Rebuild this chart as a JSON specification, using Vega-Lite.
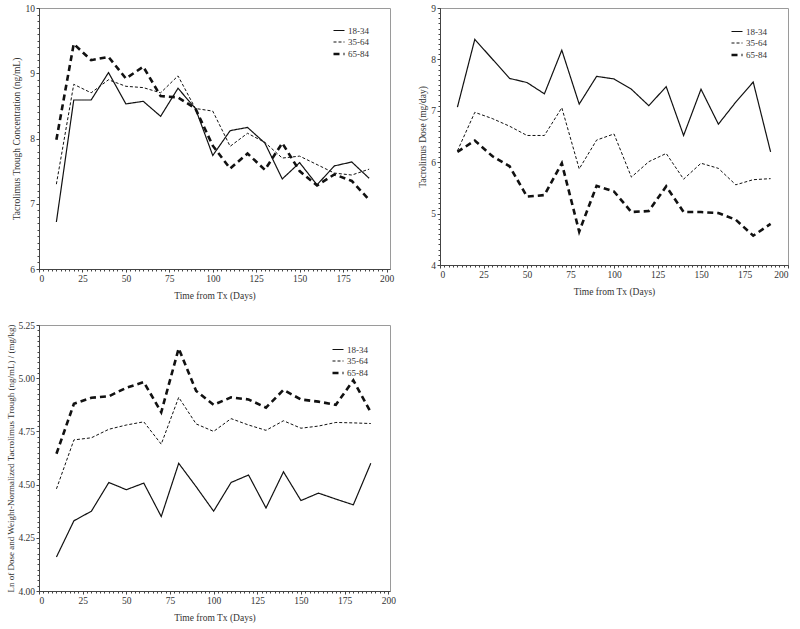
{
  "$schema": "https://vega.github.io/schema/vega-lite/v6.json",
  "padding": {"top": 2, "left": 6, "right": 5, "bottom": 5},
  "background": "white",
  "datasets": {
    "p1": [
      {"day": 10, "group": "18-34", "value": 6.72}, {"day": 20, "group": "18-34", "value": 8.59}, {"day": 30, "group": "18-34", "value": 8.59}, {"day": 40, "group": "18-34", "value": 9.01}, {"day": 50, "group": "18-34", "value": 8.53}, {"day": 60, "group": "18-34", "value": 8.57}, {"day": 70, "group": "18-34", "value": 8.34}, {"day": 80, "group": "18-34", "value": 8.77}, {"day": 90, "group": "18-34", "value": 8.46}, {"day": 100, "group": "18-34", "value": 7.74}, {"day": 110, "group": "18-34", "value": 8.12}, {"day": 120, "group": "18-34", "value": 8.17}, {"day": 130, "group": "18-34", "value": 7.93}, {"day": 140, "group": "18-34", "value": 7.38}, {"day": 150, "group": "18-34", "value": 7.63}, {"day": 160, "group": "18-34", "value": 7.29}, {"day": 170, "group": "18-34", "value": 7.58}, {"day": 180, "group": "18-34", "value": 7.64}, {"day": 190, "group": "18-34", "value": 7.39},
      {"day": 10, "group": "35-64", "value": 7.30}, {"day": 20, "group": "35-64", "value": 8.83}, {"day": 30, "group": "35-64", "value": 8.70}, {"day": 40, "group": "35-64", "value": 8.90}, {"day": 50, "group": "35-64", "value": 8.80}, {"day": 60, "group": "35-64", "value": 8.78}, {"day": 70, "group": "35-64", "value": 8.70}, {"day": 80, "group": "35-64", "value": 8.96}, {"day": 90, "group": "35-64", "value": 8.46}, {"day": 100, "group": "35-64", "value": 8.42}, {"day": 110, "group": "35-64", "value": 7.88}, {"day": 120, "group": "35-64", "value": 8.08}, {"day": 130, "group": "35-64", "value": 7.94}, {"day": 140, "group": "35-64", "value": 7.70}, {"day": 150, "group": "35-64", "value": 7.73}, {"day": 160, "group": "35-64", "value": 7.60}, {"day": 170, "group": "35-64", "value": 7.47}, {"day": 180, "group": "35-64", "value": 7.44}, {"day": 190, "group": "35-64", "value": 7.53},
      {"day": 10, "group": "65-84", "value": 7.98}, {"day": 20, "group": "65-84", "value": 9.45}, {"day": 30, "group": "65-84", "value": 9.20}, {"day": 40, "group": "65-84", "value": 9.25}, {"day": 50, "group": "65-84", "value": 8.92}, {"day": 60, "group": "65-84", "value": 9.10}, {"day": 70, "group": "65-84", "value": 8.65}, {"day": 80, "group": "65-84", "value": 8.63}, {"day": 90, "group": "65-84", "value": 8.46}, {"day": 100, "group": "65-84", "value": 7.89}, {"day": 110, "group": "65-84", "value": 7.54}, {"day": 120, "group": "65-84", "value": 7.77}, {"day": 130, "group": "65-84", "value": 7.52}, {"day": 140, "group": "65-84", "value": 7.93}, {"day": 150, "group": "65-84", "value": 7.50}, {"day": 160, "group": "65-84", "value": 7.28}, {"day": 170, "group": "65-84", "value": 7.45}, {"day": 180, "group": "65-84", "value": 7.35}, {"day": 190, "group": "65-84", "value": 7.06}
    ],
    "p2": [
      {"day": 10, "group": "18-34", "value": 7.07}, {"day": 20, "group": "18-34", "value": 8.39}, {"day": 30, "group": "18-34", "value": 8.01}, {"day": 40, "group": "18-34", "value": 7.63}, {"day": 50, "group": "18-34", "value": 7.55}, {"day": 60, "group": "18-34", "value": 7.33}, {"day": 70, "group": "18-34", "value": 8.18}, {"day": 80, "group": "18-34", "value": 7.13}, {"day": 90, "group": "18-34", "value": 7.67}, {"day": 100, "group": "18-34", "value": 7.62}, {"day": 110, "group": "18-34", "value": 7.42}, {"day": 120, "group": "18-34", "value": 7.10}, {"day": 130, "group": "18-34", "value": 7.47}, {"day": 140, "group": "18-34", "value": 6.52}, {"day": 150, "group": "18-34", "value": 7.42}, {"day": 160, "group": "18-34", "value": 6.74}, {"day": 170, "group": "18-34", "value": 7.17}, {"day": 180, "group": "18-34", "value": 7.56}, {"day": 190, "group": "18-34", "value": 6.20},
      {"day": 10, "group": "35-64", "value": 6.22}, {"day": 20, "group": "35-64", "value": 6.97}, {"day": 30, "group": "35-64", "value": 6.85}, {"day": 40, "group": "35-64", "value": 6.70}, {"day": 50, "group": "35-64", "value": 6.52}, {"day": 60, "group": "35-64", "value": 6.52}, {"day": 70, "group": "35-64", "value": 7.06}, {"day": 80, "group": "35-64", "value": 5.87}, {"day": 90, "group": "35-64", "value": 6.43}, {"day": 100, "group": "35-64", "value": 6.55}, {"day": 110, "group": "35-64", "value": 5.71}, {"day": 120, "group": "35-64", "value": 6.01}, {"day": 130, "group": "35-64", "value": 6.17}, {"day": 140, "group": "35-64", "value": 5.67}, {"day": 150, "group": "35-64", "value": 5.98}, {"day": 160, "group": "35-64", "value": 5.88}, {"day": 170, "group": "35-64", "value": 5.56}, {"day": 180, "group": "35-64", "value": 5.66}, {"day": 190, "group": "35-64", "value": 5.68},
      {"day": 10, "group": "65-84", "value": 6.20}, {"day": 20, "group": "65-84", "value": 6.42}, {"day": 30, "group": "65-84", "value": 6.12}, {"day": 40, "group": "65-84", "value": 5.92}, {"day": 50, "group": "65-84", "value": 5.33}, {"day": 60, "group": "65-84", "value": 5.36}, {"day": 70, "group": "65-84", "value": 5.98}, {"day": 80, "group": "65-84", "value": 4.65}, {"day": 90, "group": "65-84", "value": 5.54}, {"day": 100, "group": "65-84", "value": 5.43}, {"day": 110, "group": "65-84", "value": 5.03}, {"day": 120, "group": "65-84", "value": 5.05}, {"day": 130, "group": "65-84", "value": 5.53}, {"day": 140, "group": "65-84", "value": 5.03}, {"day": 150, "group": "65-84", "value": 5.03}, {"day": 160, "group": "65-84", "value": 5.01}, {"day": 170, "group": "65-84", "value": 4.88}, {"day": 180, "group": "65-84", "value": 4.57}, {"day": 190, "group": "65-84", "value": 4.80}
    ],
    "p3": [
      {"day": 10, "group": "18-34", "value": 4.16}, {"day": 20, "group": "18-34", "value": 4.33}, {"day": 30, "group": "18-34", "value": 4.375}, {"day": 40, "group": "18-34", "value": 4.51}, {"day": 50, "group": "18-34", "value": 4.476}, {"day": 60, "group": "18-34", "value": 4.507}, {"day": 70, "group": "18-34", "value": 4.35}, {"day": 80, "group": "18-34", "value": 4.60}, {"day": 90, "group": "18-34", "value": 4.49}, {"day": 100, "group": "18-34", "value": 4.375}, {"day": 110, "group": "18-34", "value": 4.51}, {"day": 120, "group": "18-34", "value": 4.545}, {"day": 130, "group": "18-34", "value": 4.39}, {"day": 140, "group": "18-34", "value": 4.56}, {"day": 150, "group": "18-34", "value": 4.425}, {"day": 160, "group": "18-34", "value": 4.46}, {"day": 170, "group": "18-34", "value": 4.432}, {"day": 180, "group": "18-34", "value": 4.405}, {"day": 190, "group": "18-34", "value": 4.60},
      {"day": 10, "group": "35-64", "value": 4.48}, {"day": 20, "group": "35-64", "value": 4.71}, {"day": 30, "group": "35-64", "value": 4.72}, {"day": 40, "group": "35-64", "value": 4.76}, {"day": 50, "group": "35-64", "value": 4.78}, {"day": 60, "group": "35-64", "value": 4.795}, {"day": 70, "group": "35-64", "value": 4.69}, {"day": 80, "group": "35-64", "value": 4.91}, {"day": 90, "group": "35-64", "value": 4.785}, {"day": 100, "group": "35-64", "value": 4.75}, {"day": 110, "group": "35-64", "value": 4.81}, {"day": 120, "group": "35-64", "value": 4.78}, {"day": 130, "group": "35-64", "value": 4.755}, {"day": 140, "group": "35-64", "value": 4.80}, {"day": 150, "group": "35-64", "value": 4.765}, {"day": 160, "group": "35-64", "value": 4.775}, {"day": 170, "group": "35-64", "value": 4.792}, {"day": 180, "group": "35-64", "value": 4.79}, {"day": 190, "group": "35-64", "value": 4.787},
      {"day": 10, "group": "65-84", "value": 4.645}, {"day": 20, "group": "65-84", "value": 4.88}, {"day": 30, "group": "65-84", "value": 4.908}, {"day": 40, "group": "65-84", "value": 4.915}, {"day": 50, "group": "65-84", "value": 4.955}, {"day": 60, "group": "65-84", "value": 4.982}, {"day": 70, "group": "65-84", "value": 4.84}, {"day": 80, "group": "65-84", "value": 5.14}, {"day": 90, "group": "65-84", "value": 4.94}, {"day": 100, "group": "65-84", "value": 4.875}, {"day": 110, "group": "65-84", "value": 4.91}, {"day": 120, "group": "65-84", "value": 4.90}, {"day": 130, "group": "65-84", "value": 4.862}, {"day": 140, "group": "65-84", "value": 4.945}, {"day": 150, "group": "65-84", "value": 4.90}, {"day": 160, "group": "65-84", "value": 4.89}, {"day": 170, "group": "65-84", "value": 4.875}, {"day": 180, "group": "65-84", "value": 4.99}, {"day": 190, "group": "65-84", "value": 4.84}
    ]
  },
  "config": {
    "font": "Liberation Serif",
    "view": {"stroke": "#9a9a9a", "strokeWidth": 1},
    "axis": {
      "labelFont": "Liberation Serif", "labelFontSize": 9.5, "labelColor": "#333",
      "titleFont": "Liberation Serif", "titleFontSize": 9.5, "titleFontWeight": "normal", "titleColor": "#333",
      "domainColor": "#444", "tickColor": "#444", "tickSize": 3, "labelPadding": 1.5, "grid": false
    },
    "legend": {
      "labelFont": "Liberation Serif", "labelFontSize": 9, "labelColor": "#333",
      "symbolType": "stroke", "symbolSize": 121, "symbolStrokeColor": "#111", "rowPadding": -1,
      "title": null, "padding": 0, "labelOffset": 2
    },
    "line": {"color": "#111"}
  },
  "columns": 2,
  "spacing": {"row": 19, "column": 21},
  "resolve": {"scale": {"x": "independent", "y": "independent"}, "legend": {"strokeDash": "independent", "strokeWidth": "independent"}},
  "concat": [
    {
      "width": 351, "height": 261,
      "data": {"name": "p1"},
      "resolve": {"axis": {"x": "independent", "y": "independent"}},
      "layer": [
        {
          "mark": {"type": "line"},
          "encoding": {
            "x": {"field": "day", "type": "quantitative", "scale": {"domain": [0, 202], "nice": false}, "axis": {"values": [0, 25, 50, 75, 100, 125, 150, 175, 200], "title": "Time from Tx (Days)", "titlePadding": 7}},
            "y": {"field": "value", "type": "quantitative", "scale": {"domain": [6, 10], "nice": false, "zero": false}, "axis": {"values": [6, 7, 8, 9, 10], "title": "Tacrolimus Trough Concentration (ng/mL)", "titlePadding": 4}},
            "strokeDash": {"field": "group", "type": "nominal", "scale": {"type": "ordinal", "domain": ["18-34", "35-64", "65-84"], "range": [[1, 0], [3, 2], [6, 4]]}, "legend": {"orient": "none", "legendX": 293, "legendY": 16, "title": null}},
            "strokeWidth": {"field": "group", "type": "nominal", "scale": {"type": "ordinal", "domain": ["18-34", "35-64", "65-84"], "range": [1.2, 1, 2.6]}, "legend": {"orient": "none", "legendX": 293, "legendY": 16, "title": null}}
          }
        },
        {
          "mark": {"type": "line", "strokeOpacity": 0},
          "encoding": {
            "x": {"field": "day", "type": "quantitative", "axis": {"orient": "bottom", "values": [0,2.5,5,7.5,10,12.5,15,17.5,20,22.5,25,27.5,30,32.5,35,37.5,40,42.5,45,47.5,50,52.5,55,57.5,60,62.5,65,67.5,70,72.5,75,77.5,80,82.5,85,87.5,90,92.5,95,97.5,100,102.5,105,107.5,110,112.5,115,117.5,120,122.5,125,127.5,130,132.5,135,137.5,140,142.5,145,147.5,150,152.5,155,157.5,160,162.5,165,167.5,170,172.5,175,177.5,180,182.5,185,187.5,190,192.5,195,197.5,200], "labels": false, "domain": false, "tickSize": 2, "title": null}},
            "y": {"field": "value", "type": "quantitative", "axis": {"orient": "left", "values": [6,6.1,6.2,6.3,6.4,6.5,6.6,6.7,6.8,6.9,7,7.1,7.2,7.3,7.4,7.5,7.6,7.7,7.8,7.9,8,8.1,8.2,8.3,8.4,8.5,8.6,8.7,8.8,8.9,9,9.1,9.2,9.3,9.4,9.5,9.6,9.7,9.8,9.9,10], "labels": false, "domain": false, "tickSize": 2, "title": null}},
            "detail": {"field": "group"}
          }
        }
      ]
    },
    {
      "width": 348, "height": 257,
      "data": {"name": "p2"},
      "resolve": {"axis": {"x": "independent", "y": "independent"}},
      "layer": [
        {
          "mark": {"type": "line"},
          "encoding": {
            "x": {"field": "day", "type": "quantitative", "scale": {"domain": [0, 200], "nice": false}, "axis": {"values": [0, 25, 50, 75, 100, 125, 150, 175, 200], "title": "Time from Tx (Days)", "titlePadding": 7}},
            "y": {"field": "value", "type": "quantitative", "scale": {"domain": [4, 9], "nice": false, "zero": false}, "axis": {"values": [4, 5, 6, 7, 8, 9], "title": "Tacrolimus Dose (mg/day)", "titlePadding": 3}},
            "strokeDash": {"field": "group", "type": "nominal", "scale": {"type": "ordinal", "domain": ["18-34", "35-64", "65-84"], "range": [[1, 0], [3, 2], [6, 4]]}, "legend": {"orient": "none", "legendX": 290, "legendY": 17, "title": null}},
            "strokeWidth": {"field": "group", "type": "nominal", "scale": {"type": "ordinal", "domain": ["18-34", "35-64", "65-84"], "range": [1.2, 1, 2.6]}, "legend": {"orient": "none", "legendX": 290, "legendY": 17, "title": null}}
          }
        },
        {
          "mark": {"type": "line", "strokeOpacity": 0},
          "encoding": {
            "x": {"field": "day", "type": "quantitative", "axis": {"orient": "bottom", "values": [0,2.5,5,7.5,10,12.5,15,17.5,20,22.5,25,27.5,30,32.5,35,37.5,40,42.5,45,47.5,50,52.5,55,57.5,60,62.5,65,67.5,70,72.5,75,77.5,80,82.5,85,87.5,90,92.5,95,97.5,100,102.5,105,107.5,110,112.5,115,117.5,120,122.5,125,127.5,130,132.5,135,137.5,140,142.5,145,147.5,150,152.5,155,157.5,160,162.5,165,167.5,170,172.5,175,177.5,180,182.5,185,187.5,190,192.5,195,197.5,200], "labels": false, "domain": false, "tickSize": 2, "title": null}},
            "y": {"field": "value", "type": "quantitative", "axis": {"orient": "left", "values": [4,4.1,4.2,4.3,4.4,4.5,4.6,4.7,4.8,4.9,5,5.1,5.2,5.3,5.4,5.5,5.6,5.7,5.8,5.9,6,6.1,6.2,6.3,6.4,6.5,6.6,6.7,6.8,6.9,7,7.1,7.2,7.3,7.4,7.5,7.6,7.7,7.8,7.9,8,8.1,8.2,8.3,8.4,8.5,8.6,8.7,8.8,8.9,9], "labels": false, "domain": false, "tickSize": 2, "title": null}},
            "detail": {"field": "group"}
          }
        }
      ]
    },
    {
      "width": 351, "height": 266,
      "data": {"name": "p3"},
      "resolve": {"axis": {"x": "independent", "y": "independent"}},
      "layer": [
        {
          "mark": {"type": "line"},
          "encoding": {
            "x": {"field": "day", "type": "quantitative", "scale": {"domain": [0, 201], "nice": false}, "axis": {"values": [0, 25, 50, 75, 100, 125, 150, 175, 200], "title": "Time from Tx (Days)", "titlePadding": 7}},
            "y": {"field": "value", "type": "quantitative", "scale": {"domain": [4, 5.25], "nice": false, "zero": false}, "axis": {"values": [4, 4.25, 4.5, 4.75, 5, 5.25], "format": ".2f", "title": "Ln of Dose and Weight-Normalized Tacrolimus Trough (ng/mL) / (mg/kg)", "titlePadding": 2, "titleFontSize": 9}},
            "strokeDash": {"field": "group", "type": "nominal", "scale": {"type": "ordinal", "domain": ["18-34", "35-64", "65-84"], "range": [[1, 0], [3, 2], [6, 4]]}, "legend": {"orient": "none", "legendX": 292, "legendY": 18, "title": null}},
            "strokeWidth": {"field": "group", "type": "nominal", "scale": {"type": "ordinal", "domain": ["18-34", "35-64", "65-84"], "range": [1.2, 1, 2.6]}, "legend": {"orient": "none", "legendX": 292, "legendY": 18, "title": null}}
          }
        },
        {
          "mark": {"type": "line", "strokeOpacity": 0},
          "encoding": {
            "x": {"field": "day", "type": "quantitative", "axis": {"orient": "bottom", "values": [0,2.5,5,7.5,10,12.5,15,17.5,20,22.5,25,27.5,30,32.5,35,37.5,40,42.5,45,47.5,50,52.5,55,57.5,60,62.5,65,67.5,70,72.5,75,77.5,80,82.5,85,87.5,90,92.5,95,97.5,100,102.5,105,107.5,110,112.5,115,117.5,120,122.5,125,127.5,130,132.5,135,137.5,140,142.5,145,147.5,150,152.5,155,157.5,160,162.5,165,167.5,170,172.5,175,177.5,180,182.5,185,187.5,190,192.5,195,197.5,200], "labels": false, "domain": false, "tickSize": 2, "title": null}},
            "y": {"field": "value", "type": "quantitative", "axis": {"orient": "left", "values": [4,4.025,4.05,4.075,4.1,4.125,4.15,4.175,4.2,4.225,4.25,4.275,4.3,4.325,4.35,4.375,4.4,4.425,4.45,4.475,4.5,4.525,4.55,4.575,4.6,4.625,4.65,4.675,4.7,4.725,4.75,4.775,4.8,4.825,4.85,4.875,4.9,4.925,4.95,4.975,5,5.025,5.05,5.075,5.1,5.125,5.15,5.175,5.2,5.225,5.25], "labels": false, "domain": false, "tickSize": 2, "title": null}},
            "detail": {"field": "group"}
          }
        }
      ]
    }
  ]
}
